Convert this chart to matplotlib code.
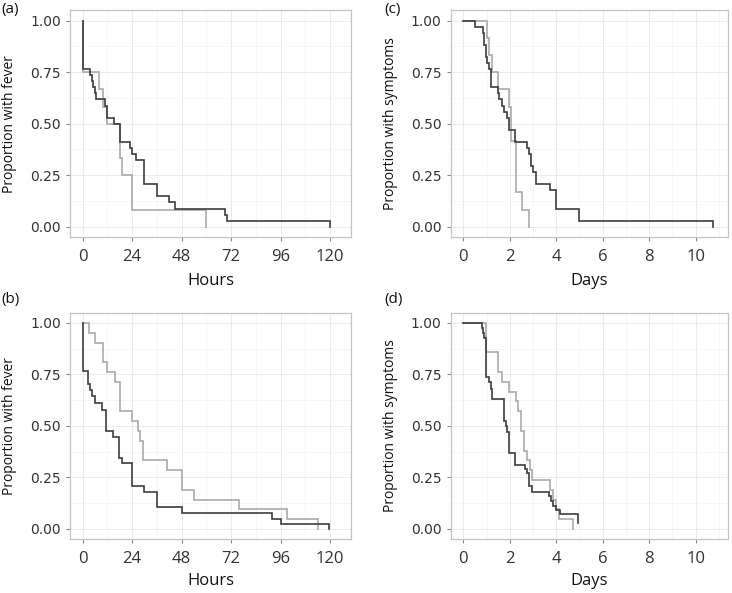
import matplotlib
matplotlib.use("Agg")
import matplotlib.pyplot as plt
import numpy as np

plt.rcParams['font.family'] = ['Open Sans', 'DejaVu Sans']

# ---------------- data ----------------
# Panel (a): hours, proportion with fever
a_dark_t = [0, 0, 3.7, 4.5, 5.1, 5.8, 6.5, 10.6, 11.6, 15.0, 17.9, 22.9, 24.1, 26.0, 29.8, 36.0, 42.0, 45.0, 69.0, 70.0, 120.0]
a_dark_s = [1.0, 0.765, 0.735, 0.706, 0.676, 0.647, 0.618, 0.588, 0.529, 0.500, 0.412, 0.382, 0.353, 0.324, 0.206, 0.147, 0.118, 0.088, 0.059, 0.029, 0.0]
a_light_t = [0, 0, 8.1, 9.7, 11.6, 17.9, 18.9, 23.9, 60.0]
a_light_s = [1.0, 0.75, 0.667, 0.583, 0.5, 0.333, 0.25, 0.083, 0.0]

# Panel (b): hours, proportion with fever
b_dark_t = [0, 0, 2.7, 3.5, 4.7, 5.8, 9.5, 11.5, 14.9, 17.7, 19.2, 23.8, 29.7, 35.9, 48.0, 92.0, 96.1, 119.5]
b_dark_s = [1.0, 0.765, 0.706, 0.676, 0.647, 0.610, 0.580, 0.474, 0.446, 0.346, 0.318, 0.209, 0.181, 0.107, 0.078, 0.050, 0.025, 0.0]
b_light_t = [0, 3.3, 6.0, 9.8, 11.8, 15.9, 18.0, 24.0, 26.6, 28.0, 29.5, 40.7, 48.0, 54.0, 76.0, 99.0, 114.3]
b_light_s = [1.0, 0.952, 0.905, 0.810, 0.762, 0.714, 0.571, 0.524, 0.476, 0.429, 0.333, 0.286, 0.190, 0.143, 0.095, 0.048, 0.0]

# Panel (c): days, proportion with symptoms
c_dark_t = [0, 0.52, 0.83, 0.90, 0.96, 1.03, 1.10, 1.19, 1.48, 1.55, 1.65, 1.75, 1.87, 1.96, 2.24, 2.75, 2.84, 2.91, 3.01, 3.15, 3.73, 4.0, 5.0, 10.76]
c_dark_s = [1.0, 0.971, 0.941, 0.882, 0.824, 0.794, 0.765, 0.676, 0.647, 0.618, 0.588, 0.559, 0.529, 0.471, 0.412, 0.382, 0.353, 0.294, 0.265, 0.206, 0.176, 0.088, 0.029, 0.0]
c_light_t = [0, 1.0, 1.12, 1.23, 1.5, 1.98, 2.04, 2.25, 2.52, 2.82]
c_light_s = [1.0, 0.917, 0.833, 0.75, 0.667, 0.583, 0.417, 0.167, 0.083, 0.0]

# Panel (d): days, proportion with symptoms
d_dark_t = [0, 0.82, 0.86, 0.90, 0.98, 1.12, 1.18, 1.22, 1.77, 1.83, 1.90, 1.97, 2.24, 2.65, 2.73, 2.84, 2.94, 3.68, 3.77, 3.88, 4.0, 4.15, 4.95]
d_dark_s = [1.0, 0.974, 0.950, 0.926, 0.739, 0.715, 0.680, 0.629, 0.524, 0.500, 0.470, 0.370, 0.312, 0.292, 0.272, 0.210, 0.182, 0.160, 0.135, 0.110, 0.090, 0.074, 0.027]
d_light_t = [0, 0.98, 1.51, 1.67, 1.97, 2.26, 2.35, 2.49, 2.62, 2.74, 2.87, 2.96, 3.73, 3.87, 4.0, 4.12, 4.73]
d_light_s = [1.0, 0.857, 0.762, 0.714, 0.667, 0.619, 0.571, 0.476, 0.381, 0.333, 0.286, 0.238, 0.190, 0.143, 0.095, 0.048, 0.0]

hour_ticks = [0, 24, 48, 72, 96, 120]
hour_minor = [12, 36, 60, 84, 108]
day_ticks = [0, 2, 4, 6, 8, 10]
day_minor = [1, 3, 5, 7, 9, 11]
y_ticks = [0.0, 0.25, 0.5, 0.75, 1.0]
y_tick_labels = ['0.00', '0.25', '0.50', '0.75', '1.00']
y_minor = [0.125, 0.375, 0.625, 0.875]

panel_labels = ['(a)', '(b)', '(c)', '(d)']
ylabels = ['Proportion with fever', 'Proportion with fever',
           'Proportion with symptoms', 'Proportion with symptoms']
xlabels = ['Hours', 'Hours', 'Days', 'Days']

# ---------------- layout ----------------
W, H = 732, 593
fig = plt.figure(figsize=(W / 100, H / 100), dpi=100)

def ax_rect(l, r, t, b):
    return [l / W, 1 - b / H, (r - l) / W, (b - t) / H]

boxes = [(70, 351, 10.4, 237), (70, 351, 312.7, 539.3),
         (450.7, 727.5, 10.4, 237), (450.7, 727.5, 312.7, 539.3)]
ylabel_x = [10, 10, 391, 391]
xlabel_y = [281, 581, 281, 581]

DARK = '#3d3d3d'
LIGHT = '#aaaaaa'

data = [
    (a_dark_t, a_dark_s, a_light_t, a_light_s),
    (b_dark_t, b_dark_s, b_light_t, b_light_s),
    (c_dark_t, c_dark_s, c_light_t, c_light_s),
    (d_dark_t, d_dark_s, d_light_t, d_light_s),
]

for i, (l, r, t, b) in enumerate(boxes):
    ax = fig.add_axes(ax_rect(l, r, t, b))
    dt, ds, lt, ls = data[i]
    hours = i < 2
    if hours:
        ax.set_xlim(-6.16, 130.2)
        ax.set_xticks(hour_ticks)
        ax.set_xticks(hour_minor, minor=True)
    else:
        ax.set_xlim(-0.542, 11.37)
        ax.set_xticks(day_ticks)
        ax.set_xticks(day_minor, minor=True)
    ax.set_ylim(-0.05, 1.05)
    ax.set_yticks(y_ticks)
    ax.set_yticklabels(y_tick_labels)
    ax.set_yticks(y_minor, minor=True)

    ax.grid(True, which='major', color='#ebebeb', lw=0.7, zorder=0)
    ax.grid(True, which='minor', color='#f3f3f3', lw=0.5, zorder=0)
    ax.set_axisbelow(True)

    ax.step(lt, ls, where='post', color=LIGHT, lw=1.2, zorder=2, solid_joinstyle='miter')
    ax.step(dt, ds, where='post', color=DARK, lw=1.2, zorder=3, solid_joinstyle='miter')

    for sp in ax.spines.values():
        sp.set_color('#c4c4c4')
        sp.set_linewidth(0.9)
    ax.tick_params(which='major', direction='out', length=3, width=0.8,
                   color='#8a8a8a', labelcolor='#333333')
    ax.tick_params(axis='y', labelsize=10, pad=3.5)
    ax.tick_params(axis='x', labelsize=12, pad=5.5)
    for lab in ax.get_yticklabels():
        lab.set_family('DejaVu Sans')
    ax.tick_params(which='minor', length=0)

    ax.set_xlabel(xlabels[i], fontsize=12, color='#111111')
    ax.xaxis.label.set_verticalalignment('center')
    ax.xaxis.set_label_coords((l + r) / 2 / W, 1 - xlabel_y[i] / H, transform=fig.transFigure)
    ax.set_ylabel(ylabels[i], fontsize=10, color='#111111')
    ax.yaxis.label.set_verticalalignment('center')
    ax.yaxis.set_label_coords(ylabel_x[i] / W, 1 - (t + b) / 2 / H, transform=fig.transFigure)

# panel labels
pl_pos = [(1, 9), (1, 299), (384, 9), (384, 299)]
for lab, (x, y) in zip(panel_labels, pl_pos):
    fig.text(x / W, 1 - y / H, lab, fontsize=11, va='center', ha='left', color='#111111')

fig.savefig('out.png', dpi=100)
